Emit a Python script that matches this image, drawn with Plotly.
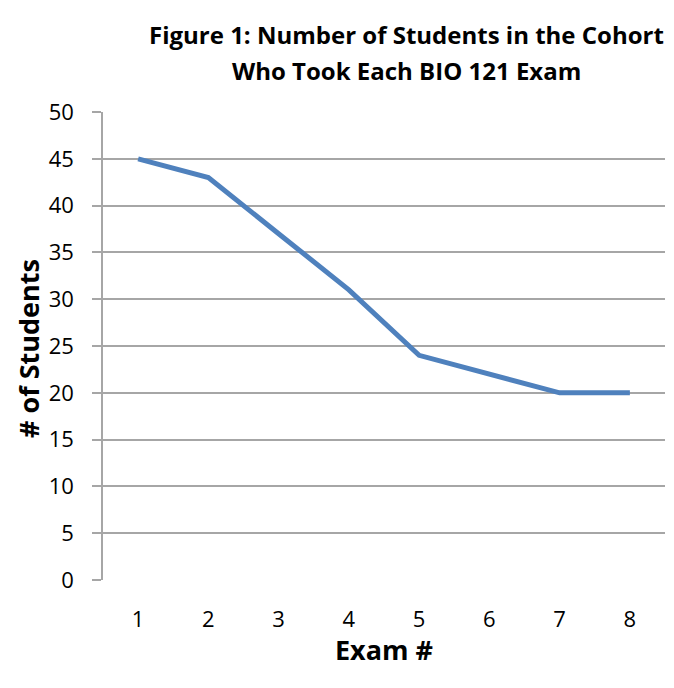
import plotly.graph_objects as go

exam_numbers = [1, 2, 3, 4, 5, 6, 7, 8]
students = [45, 43, 37, 31, 24, 22, 20, 20]
y_ticks = [0, 5, 10, 15, 20, 25, 30, 35, 40, 45, 50]
title_lines = ["Figure 1: Number of Students in the Cohort", "Who Took Each BIO 121 Exam"]
y_title = "# of Students"
x_title = "Exam #"

FONT = "Open Sans"

fig = go.Figure()
fig.add_trace(go.Scatter(
    x=exam_numbers, y=students, mode="lines",
    line=dict(color="#4F81BD", width=5),
    hoverinfo="skip", showlegend=False,
))

fig.update_layout(
    width=674, height=688,
    margin=dict(l=103, r=9, t=112, b=108, autoexpand=False),
    paper_bgcolor="white", plot_bgcolor="white",
    font=dict(family=FONT, color="black"),
    xaxis=dict(
        range=[0.5, 8.5], tickmode="array", tickvals=exam_numbers,
        ticktext=[str(v) for v in exam_numbers],
        showgrid=False, showline=False, zeroline=False, ticks="",
        ticklabelstandoff=24, automargin=False,
        tickfont=dict(family=FONT, size=22, color="black"),
        fixedrange=True,
    ),
    yaxis=dict(
        range=[0, 50], tickmode="array", tickvals=y_ticks,
        showgrid=True, gridcolor="#A6A6A6", gridwidth=1.5,
        showline=True, linecolor="#A6A6A6", linewidth=1.5,
        ticks="outside", ticklen=9, tickcolor="#A6A6A6", tickwidth=1.5,
        ticklabelstandoff=14, automargin=False,
        zeroline=False,
        tickfont=dict(family=FONT, size=22, color="black"),
        fixedrange=True,
    ),
)

for txt, ypx in zip(title_lines, [35, 70]):
    fig.add_annotation(
        text="<b>" + txt + "</b>", xref="paper", yref="paper",
        x=(406 - 103) / 562, y=(688 - 108 - ypx) / 468, showarrow=False,
        xanchor="center", yanchor="middle",
        font=dict(family=FONT, size=24, color="black"),
    )

fig.add_annotation(
    text="<b>" + y_title + "</b>", xref="paper", yref="paper",
    x=(28 - 103) / 562, y=(580 - 349) / 468, textangle=-90, showarrow=False,
    xanchor="center", yanchor="middle",
    font=dict(family=FONT, size=27, color="black"),
)
fig.add_annotation(
    text="<b>" + x_title + "</b>", xref="paper", yref="paper",
    x=(384 - 103) / 562, y=(580 - 649) / 468, showarrow=False,
    xanchor="center", yanchor="middle",
    font=dict(family=FONT, size=27, color="black"),
)

fig.write_html(
    "out.html",
    config={"displayModeBar": False},
    post_script="document.body.style.margin='0';document.body.style.overflow='hidden';",
)
